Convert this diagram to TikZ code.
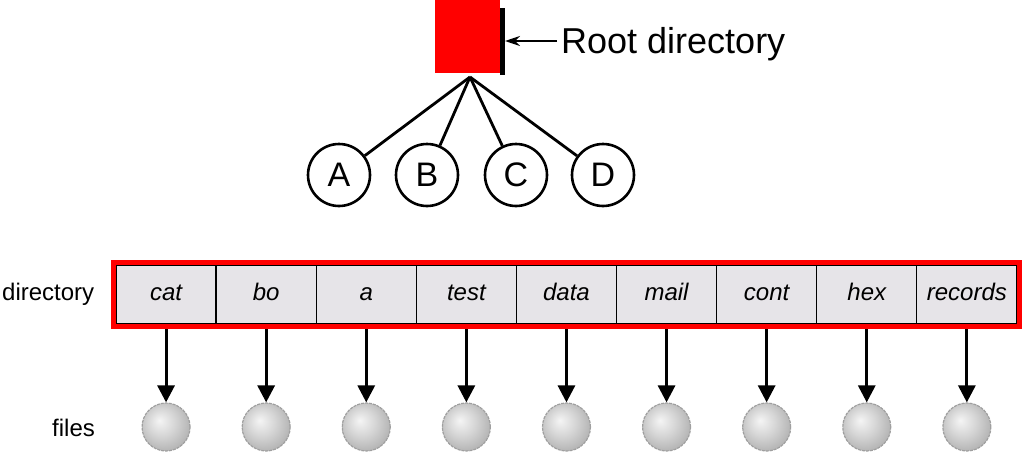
\documentclass[tikz,border=0pt]{standalone}
\usepackage{fontspec}
\setmainfont{Liberation Sans}
\usetikzlibrary{arrows.meta,fit}
\definecolor{cellgray}{RGB}{230,228,232}
\pgfdeclareradialshading{ballsh}{\pgfpoint{-7bp}{7bp}}{%
  color(0bp)=(gray!8); color(14bp)=(gray!32); color(28bp)=(gray!58); color(50bp)=(gray!62)}
\tikzset{
  cellbox/.style={draw=black, line width=1.3pt, fill=cellgray, minimum width=100.1pt,
    minimum height=59pt, inner sep=0pt, text height=17pt, text depth=5pt,
    font=\fontsize{24}{28}\selectfont\itshape},
  dirnode/.style={circle, draw=black, line width=2.6pt, minimum size=62pt, inner sep=0pt,
    font=\fontsize{34}{38}\selectfont},
  ballnode/.style={circle, draw=gray!75, line width=1.2pt, dash pattern=on 3pt off 1pt,
    minimum size=48pt, inner sep=0pt, shading=ballsh},
  treeline/.style={line width=2.8pt},
  filearrow/.style={line width=3pt, -{Triangle[length=17pt,width=17pt]}},
  lbl/.style={font=\fontsize{24}{28}\selectfont, inner sep=0pt}
}
\begin{document}
\begin{tikzpicture}[x=1pt,y=-1pt]
\useasboundingbox (0,0) rectangle (1024,469);
% root directory
\node[fill=red, minimum width=65pt, minimum height=73pt, inner sep=0pt] (root) at (467.5,36.5) {};
\fill[black] ([yshift=-8pt]root.north east) rectangle ([xshift=5pt,yshift=-2pt]root.south east);
\node[anchor=base west, inner sep=0pt, font=\fontsize{36}{40}\selectfont] (rootlbl) at (561,53) {Root directory};
\coordinate (lblpt) at (557,41);
\coordinate (rootpt) at (505,41);
\draw[line width=1.8pt, -{Stealth[length=15pt,width=10pt]}] (lblpt) -- (rootpt);
% subdirectories
\coordinate (hub) at (470,77);
\node[dirnode] (A) at (339,175) {A};
\node[dirnode] (B) at (427,175) {B};
\node[dirnode] (C) at (516,175) {C};
\node[dirnode] (D) at (603,175) {D};
\foreach \n in {A,B,C,D} \draw[treeline] (hub) -- (\n);
% directory cells
\foreach \t [count=\i] in {cat,bo,a,test,data,mail,cont,hex,records}
  \node[cellbox] (c\i) at ({116+100.1*(\i-0.5)},294.5) {\t};
% files
\foreach \i in {1,...,9} {
  \node[ballnode] (b\i) at ({116+100.1*(\i-0.5)},427) {};
  \draw[filearrow] (c\i.south) -- (b\i.north);
}
\node[fit=(c1)(c9), draw=red, line width=4.5pt, inner sep=1.8pt] (dir) {};
\node[lbl, anchor=west] (dirlbl) at (2,294) {directory};
\node[lbl, anchor=west] (fileslbl) at (52,428) {files};
\end{tikzpicture}
\end{document}
